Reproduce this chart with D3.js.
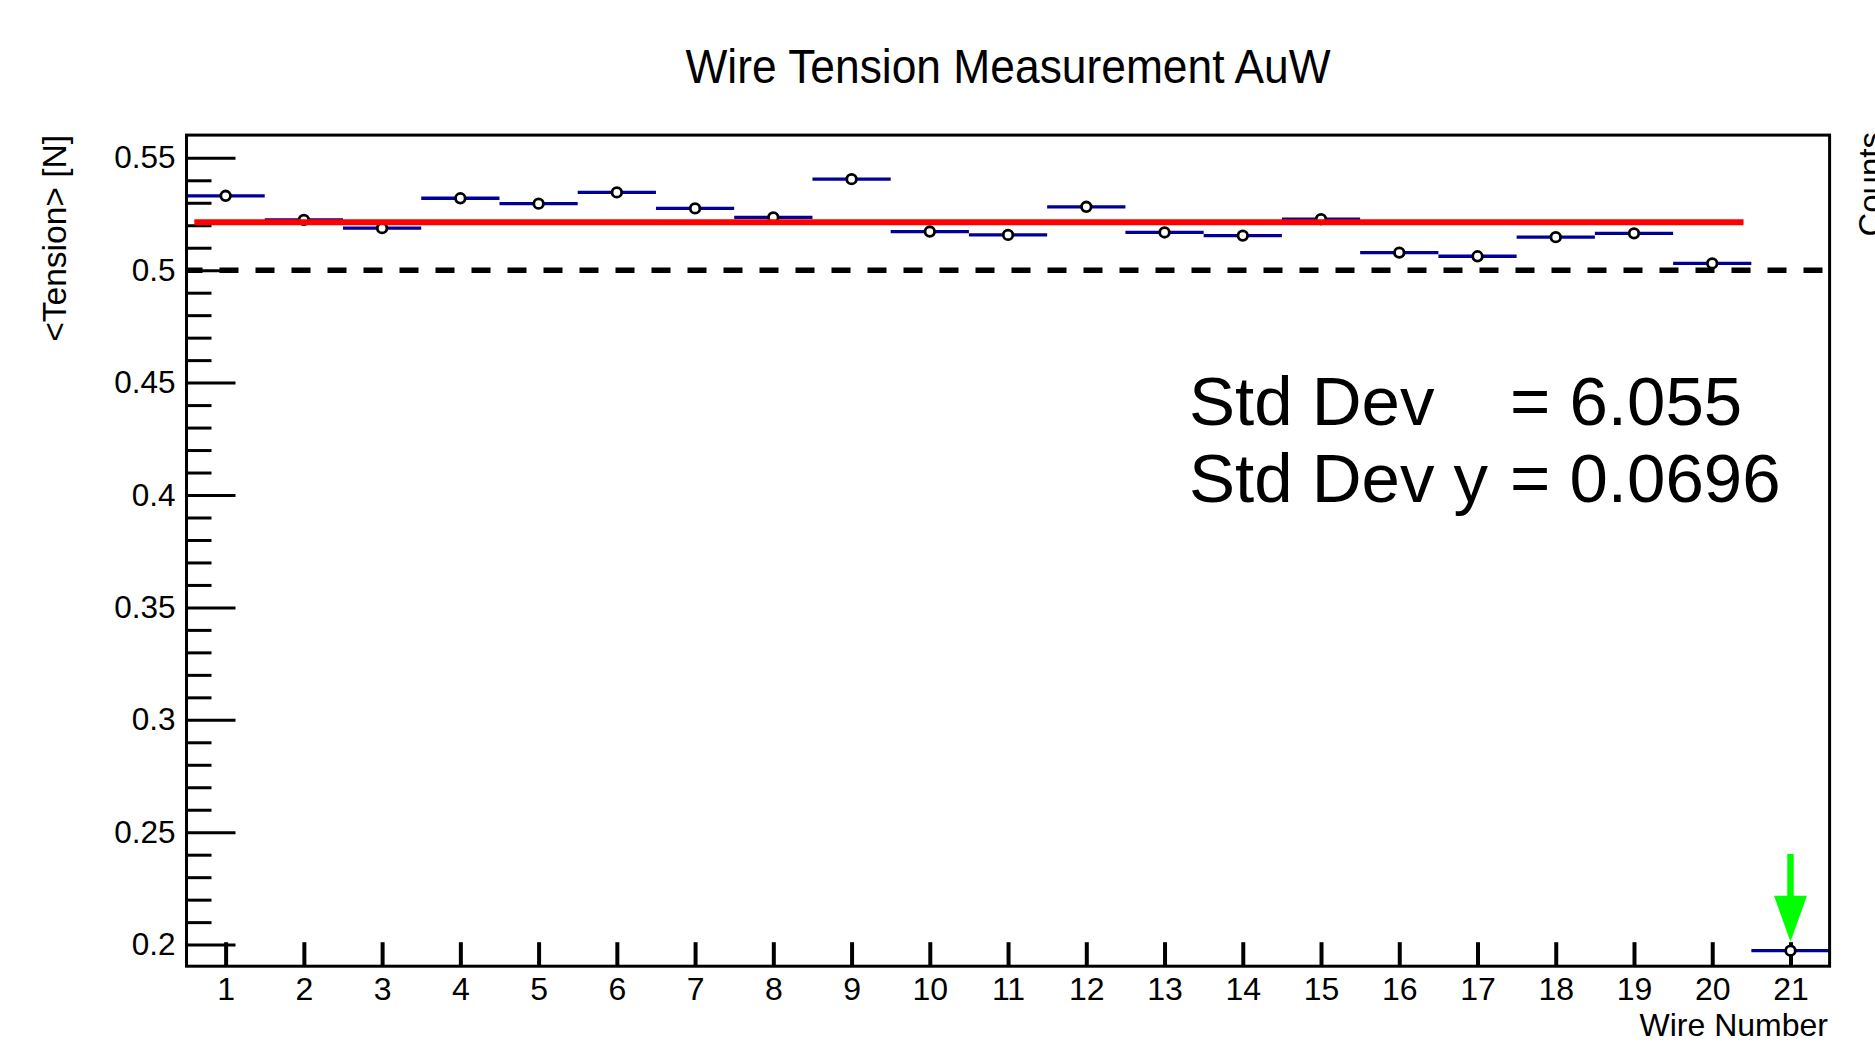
<!DOCTYPE html>
<html>
<head>
<meta charset="utf-8">
<script src="https://cdn.jsdelivr.net/npm/d3@7"></script>
<style>
  html, body { margin: 0; padding: 0; background: #ffffff; }
  svg { display: block; }
  text { font-family: "Liberation Sans", Arial, Helvetica, sans-serif; fill: #000; }
</style>
</head>
<body>
<svg id="chart" width="1875" height="1046"></svg>
<script>
// Wire numbers and mean tension per wire [N]
const wires = [1, 2, 3, 4, 5, 6, 7, 8, 9, 10, 11, 12, 13, 14, 15, 16, 17, 18, 19, 20, 21];
const tension = [0.5331, 0.5224, 0.5187, 0.5320, 0.5296, 0.5346, 0.5275, 0.5235, 0.5405, 0.5172,
                 0.5157, 0.5282, 0.5168, 0.5154, 0.5227, 0.5078, 0.5062, 0.5147, 0.5164, 0.5030, 0.1973];

// Constant fit over the wires and the nominal tension
const fitValue = 0.5213;
const fitRange = [0.6, 20.4];
const nominalTension = 0.5;

// Flag pointing at the outlier wire
const flagWire = 21;
const flagFrom = 0.2403;
const flagTo = 0.2013;

// Axis ticks
const yMajorTicks = [0.2, 0.25, 0.3, 0.35, 0.4, 0.45, 0.5, 0.55];
const yMajorLabels = ["0.2", "0.25", "0.3", "0.35", "0.4", "0.45", "0.5", "0.55"];
const yMinorTicks = [0.21, 0.22, 0.23, 0.24, 0.26, 0.27, 0.28, 0.29, 0.31, 0.32, 0.33, 0.34,
                     0.36, 0.37, 0.38, 0.39, 0.41, 0.42, 0.43, 0.44, 0.46, 0.47, 0.48, 0.49,
                     0.51, 0.52, 0.53, 0.54];
const xTickLabels = wires.map(String);

// Statistics box entries
const statNames = ["Std Dev", "Std Dev y"];
const statValues = ["6.055", "0.0696"];

const svg = d3.select("#chart");
const frame = { left: 186.5, right: 1829.6, top: 135.1, bottom: 966.2 };

const x = d3.scaleLinear().domain([0.5, 21.5]).range([frame.left, frame.right]);
const y = d3.scaleLinear().domain([0.1904, 0.5601]).range([frame.bottom, frame.top]);

// Title
svg.append("text")
  .attr("x", 1008).attr("y", 83)
  .attr("text-anchor", "middle")
  .attr("font-size", 48)
  .attr("textLength", 645)
  .attr("lengthAdjust", "spacingAndGlyphs")
  .text("Wire Tension Measurement AuW");

// Y axis: major ticks with labels, minor ticks, pointing into the frame
const yMajor = svg.append("g")
  .attr("transform", `translate(${frame.left},0)`)
  .call(d3.axisLeft(y).tickValues(yMajorTicks).tickSize(-49).tickPadding(11)
        .tickFormat((d, i) => yMajorLabels[i]));
yMajor.select(".domain").remove();
yMajor.selectAll("line").attr("stroke", "#000").attr("stroke-width", 3);
yMajor.selectAll("text").attr("font-size", 31.5).attr("font-family", null);

const yMinor = svg.append("g")
  .attr("transform", `translate(${frame.left},0)`)
  .call(d3.axisLeft(y).tickValues(yMinorTicks).tickSize(-25).tickFormat(""));
yMinor.select(".domain").remove();
yMinor.selectAll("line").attr("stroke", "#000").attr("stroke-width", 3);

// X axis
const xAxis = svg.append("g")
  .attr("transform", `translate(0,${frame.bottom})`)
  .call(d3.axisBottom(x).tickValues(wires).tickSize(-24).tickPadding(11)
        .tickFormat((d, i) => xTickLabels[i]));
xAxis.select(".domain").remove();
xAxis.selectAll("line").attr("stroke", "#000").attr("stroke-width", 4);
xAxis.selectAll("text").attr("font-size", 32).attr("font-family", null);

// Axis titles
svg.append("text")
  .attr("x", 1828).attr("y", 1036)
  .attr("text-anchor", "end")
  .attr("font-size", 32)
  .text("Wire Number");

svg.append("text")
  .attr("transform", "translate(66,135) rotate(-90)")
  .attr("text-anchor", "end")
  .attr("font-size", 33.5)
  .text("<Tension> [N]");

svg.append("text")
  .attr("transform", "translate(1882,132) rotate(-90)")
  .attr("text-anchor", "end")
  .attr("font-size", 33)
  .text("Counts");

// Clip marks to the frame
svg.append("defs").append("clipPath").attr("id", "frameClip")
  .append("rect")
  .attr("x", frame.left).attr("y", frame.top)
  .attr("width", frame.right - frame.left).attr("height", frame.bottom - frame.top);

const plot = svg.append("g").attr("clip-path", "url(#frameClip)");

// Bin-width bars for each wire
plot.selectAll("line.bin")
  .data(wires)
  .join("line")
  .attr("class", "bin")
  .attr("x1", d => x(d - 0.5)).attr("x2", d => x(d + 0.5))
  .attr("y1", (d, i) => y(tension[i])).attr("y2", (d, i) => y(tension[i]))
  .attr("stroke", "#000099").attr("stroke-width", 3.3);

// Mean markers
plot.selectAll("circle.mean")
  .data(wires)
  .join("circle")
  .attr("class", "mean")
  .attr("cx", d => x(d)).attr("cy", (d, i) => y(tension[i]))
  .attr("r", 4.8)
  .attr("fill", "#fff").attr("stroke", "#000").attr("stroke-width", 2.8);

// Constant fit
plot.append("line")
  .attr("x1", x(fitRange[0])).attr("x2", x(fitRange[1]))
  .attr("y1", y(fitValue)).attr("y2", y(fitValue))
  .attr("stroke", "#ff0000").attr("stroke-width", 6);

// Nominal tension
plot.append("line")
  .attr("x1", x(0.5)).attr("x2", x(21.5))
  .attr("y1", y(nominalTension)).attr("y2", y(nominalTension))
  .attr("stroke", "#000").attr("stroke-width", 5.5)
  .attr("stroke-dasharray", "19,17").attr("stroke-dashoffset", 3);

// Outlier flag
const headLen = 46, headHalf = 16.5;
const ax = x(flagWire), ayTop = y(flagFrom), ayTip = y(flagTo);
plot.append("line")
  .attr("x1", ax).attr("x2", ax)
  .attr("y1", ayTop).attr("y2", ayTip - headLen + 2)
  .attr("stroke", "#00ff00").attr("stroke-width", 6.5);
plot.append("path")
  .attr("d", d3.line()([[ax - headHalf, ayTip - headLen], [ax + headHalf, ayTip - headLen], [ax, ayTip]]) + "Z")
  .attr("fill", "#00ff00");

// Frame
svg.append("rect")
  .attr("x", frame.left).attr("y", frame.top)
  .attr("width", frame.right - frame.left).attr("height", frame.bottom - frame.top)
  .attr("fill", "none").attr("stroke", "#000").attr("stroke-width", 3);

// Statistics
const stats = svg.append("g").attr("font-size", 69);
statNames.forEach((name, i) => {
  stats.append("text").attr("x", 1189).attr("y", 425 + i * 77).text(name);
  stats.append("text").attr("x", 1510).attr("y", 425 + i * 77).text("= " + statValues[i]);
});
</script>
</body>
</html>
